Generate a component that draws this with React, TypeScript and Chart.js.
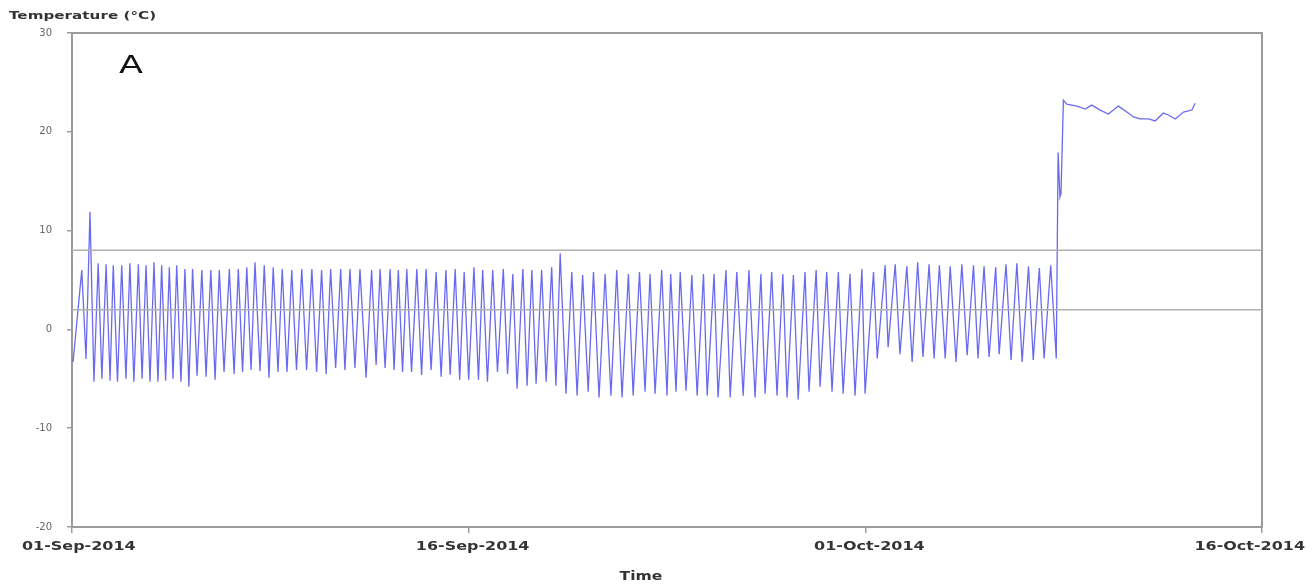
import React, { useEffect, useRef } from "react";
import { Chart, registerables } from "chart.js";

Chart.register(...registerables);

// Time axis: days since 01-Sep-2014 00:00
const xTickDays = [0, 15, 30, 45];
const xTickLabels = ["01-Sep-2014", "16-Sep-2014", "01-Oct-2014", "16-Oct-2014"];
const yTicks = [-20, -10, 0, 10, 20, 30];

// Daily cycling phase: peaks of each cycle
const peakDays = [
  0.37, 0.68, 0.99, 1.29, 1.56, 1.88, 2.19, 2.51, 2.8, 3.1,
  3.39, 3.68, 3.96, 4.27, 4.56, 4.91, 5.25, 5.57, 5.95, 6.29,
  6.61, 6.92, 7.27, 7.61, 7.95, 8.31, 8.69, 9.07, 9.44, 9.78,
  10.16, 10.51, 10.89, 11.33, 11.65, 12.03, 12.34, 12.66, 13.04, 13.39,
  13.77, 14.14, 14.49, 14.83, 15.2, 15.53, 15.91, 16.31, 16.67, 17.05,
  17.39, 17.76, 18.14, 18.46, 18.9, 19.31, 19.72, 20.16, 20.6, 21.04,
  21.46, 21.86, 22.3, 22.64, 23.0, 23.44, 23.88, 24.28, 24.73, 25.14,
  25.6, 26.05, 26.46, 26.88, 27.28, 27.72, 28.14, 28.54, 28.98, 29.42,
  29.87, 30.31, 30.75, 31.13, 31.57, 31.98, 32.41, 32.8, 33.21, 33.65,
  34.09, 34.49, 34.93, 35.32, 35.73, 36.17, 36.58, 37.01,
];
const peakTemps = [
  6.0, 11.9, 6.7, 6.6, 6.5, 6.5, 6.7, 6.6, 6.5, 6.8,
  6.5, 6.3, 6.5, 6.1, 6.1, 6.0, 6.0, 6.0, 6.1, 6.1,
  6.3, 6.8, 6.5, 6.3, 6.1, 6.0, 6.1, 6.1, 6.0, 6.1,
  6.1, 6.1, 6.1, 6.0, 6.1, 6.1, 6.0, 6.1, 6.1, 6.1,
  5.8, 6.0, 6.1, 5.8, 6.3, 6.0, 6.0, 6.1, 5.6, 6.1,
  6.0, 6.0, 6.3, 7.7, 5.8, 5.5, 5.8, 5.6, 6.0, 5.6,
  5.8, 5.6, 6.0, 5.6, 5.8, 5.5, 5.6, 5.6, 6.0, 5.8,
  6.0, 5.6, 5.8, 5.6, 5.5, 5.8, 6.0, 5.8, 5.8, 5.6,
  6.1, 5.8, 6.5, 6.6, 6.4, 6.8, 6.6, 6.5, 6.4, 6.6,
  6.5, 6.4, 6.3, 6.6, 6.7, 6.4, 6.2, 6.5,
];

// Troughs (first value is the start of the record)
const troughDays = [
  0.04,
  0.53, 0.83, 1.13, 1.44, 1.72, 2.04, 2.34, 2.65, 2.95, 3.25,
  3.54, 3.82, 4.12, 4.42, 4.73, 5.07, 5.41, 5.75, 6.13, 6.45,
  6.77, 7.11, 7.45, 7.79, 8.13, 8.49, 8.87, 9.25, 9.61, 9.97,
  10.32, 10.7, 11.12, 11.5, 11.84, 12.18, 12.5, 12.84, 13.22, 13.58,
  13.96, 14.3, 14.66, 15.0, 15.37, 15.71, 16.09, 16.47, 16.83, 17.21,
  17.55, 17.93, 18.3, 18.68, 19.1, 19.52, 19.93, 20.38, 20.8, 21.22,
  21.67, 22.05, 22.5, 22.84, 23.22, 23.64, 24.02, 24.43, 24.89, 25.38,
  25.83, 26.21, 26.66, 27.04, 27.46, 27.87, 28.29, 28.74, 29.16, 29.61,
  29.99, 30.45, 30.86, 31.31, 31.77, 32.18, 32.6, 33.02, 33.43, 33.85,
  34.26, 34.68, 35.06, 35.51, 35.93, 36.35, 36.76, 37.22,
];
const troughTemps = [
  -3.3,
  -3.0, -5.3, -5.0, -5.2, -5.3, -5.0, -5.3, -5.0, -5.3, -5.3,
  -5.2, -5.0, -5.3, -5.8, -4.7, -4.8, -5.1, -4.3, -4.5, -4.3,
  -4.1, -4.2, -4.9, -4.3, -4.3, -4.1, -4.1, -4.3, -4.5, -3.9,
  -4.1, -3.9, -4.9, -3.6, -3.9, -4.1, -4.3, -4.3, -4.6, -4.1,
  -4.8, -4.6, -5.1, -5.1, -5.1, -5.3, -4.3, -4.5, -6.0, -5.7,
  -5.5, -5.3, -5.7, -6.5, -6.7, -6.3, -6.9, -6.7, -6.9, -6.7,
  -6.3, -6.5, -6.7, -6.3, -6.2, -6.7, -6.7, -6.9, -6.9, -6.7,
  -6.9, -6.5, -6.7, -6.9, -7.1, -6.3, -5.8, -6.3, -6.5, -6.7,
  -6.5, -2.95, -1.8, -2.5, -3.3, -2.8, -2.95, -2.95, -3.3, -2.6,
  -2.95, -2.8, -2.5, -3.1, -3.3, -3.1, -2.95, -2.95,
];

// Final warm phase after the jump
const warmDays = [
  37.29, 37.36, 37.4, 37.49, 37.62, 38.0, 38.31, 38.56, 38.88, 39.19,
  39.57, 39.89, 40.14, 40.39, 40.71, 40.96, 41.27, 41.46, 41.72, 42.03,
  42.35, 42.47,
];
const warmTemps = [
  17.9, 13.4, 13.8, 23.2, 22.8, 22.6, 22.3, 22.7, 22.2, 21.8,
  22.6, 22.0, 21.5, 21.3, 21.3, 21.1, 21.9, 21.7, 21.3, 22.0,
  22.2, 22.9,
];

// Horizontal limit lines
const limitDays = [0, 45];
const upperLimit = [8, 8];
const lowerLimit = [2, 2];

const FONT = "'DejaVu Sans', Verdana, sans-serif";

function drawStretched(
  ctx: CanvasRenderingContext2D,
  text: string,
  x: number,
  y: number,
  sx: number,
  align: CanvasTextAlign
) {
  ctx.save();
  ctx.translate(x, y);
  ctx.scale(sx, 1);
  ctx.textAlign = align;
  ctx.textBaseline = "alphabetic";
  ctx.fillText(text, 0, 0);
  ctx.restore();
}

const decorPlugin = {
  id: "decor",
  beforeDatasetsDraw(chart: any) {
    const { ctx, chartArea } = chart;
    ctx.save();
    ctx.strokeStyle = "#9c9c9c";
    ctx.lineWidth = 2;
    ctx.strokeRect(
      chartArea.left,
      chartArea.top,
      chartArea.right - chartArea.left,
      chartArea.bottom - chartArea.top
    );
    ctx.restore();
  },
  afterDraw(chart: any) {
    const { ctx } = chart;
    const xs = chart.scales.x;
    ctx.save();
    ctx.fillStyle = "#333";
    ctx.font = `bold 11px ${FONT}`;
    drawStretched(ctx, "Temperature (°C)", 9, 19, 1.38, "left");
    ctx.fillStyle = "#111";
    ctx.font = `25px ${FONT}`;
    drawStretched(ctx, "A", 119, 73, 1.4, "left");
    ctx.fillStyle = "#333";
    ctx.font = `bold 12px ${FONT}`;
    const sx = 1.33;
    xs.ticks.forEach((t: any) => {
      const label = xTickLabels[xTickDays.indexOf(t.value)];
      if (!label) return;
      const w = ctx.measureText(label).width * sx;
      let cx = xs.getPixelForValue(t.value) + 4;
      cx = Math.max(cx, 22 + w / 2);
      cx = Math.min(cx, 1305 - w / 2);
      drawStretched(ctx, label, cx, 550, sx, "center");
    });
    ctx.font = `bold 12px ${FONT}`;
    drawStretched(ctx, "Time", 641, 580, 1.3, "center");
    ctx.restore();
  },
};

export default function App() {
  const canvasRef = useRef<HTMLCanvasElement | null>(null);

  useEffect(() => {
    if (!canvasRef.current) return;

    const pts: { x: number; y: number }[] = [];
    peakDays.forEach((d, i) => pts.push({ x: d, y: peakTemps[i] }));
    troughDays.forEach((d, i) => pts.push({ x: d, y: troughTemps[i] }));
    warmDays.forEach((d, i) => pts.push({ x: d, y: warmTemps[i] }));
    pts.sort((a, b) => a.x - b.x);

    const chart = new Chart(canvasRef.current, {
      type: "line",
      data: {
        datasets: [
          {
            label: "Temperature",
            data: pts,
            borderColor: "rgba(80,80,238,0.85)",
            borderWidth: 1.3,
            pointRadius: 0,
            tension: 0,
            fill: false,
            order: 1,
          },
          {
            label: "Upper limit",
            data: limitDays.map((d, i) => ({ x: d, y: upperLimit[i] })),
            borderColor: "#b0b0b0",
            borderWidth: 1.5,
            pointRadius: 0,
            fill: false,
            order: 0,
          },
          {
            label: "Lower limit",
            data: limitDays.map((d, i) => ({ x: d, y: lowerLimit[i] })),
            borderColor: "#b0b0b0",
            borderWidth: 1.5,
            pointRadius: 0,
            fill: false,
            order: 0,
          },
        ],
      },
      options: {
        animation: false,
        responsive: false,
        maintainAspectRatio: false,
        layout: { padding: { top: 33, right: 53, bottom: 0, left: 0 } },
        plugins: {
          legend: { display: false },
          tooltip: { enabled: false },
          title: { display: false },
        },
        scales: {
          x: {
            type: "linear",
            min: xTickDays[0],
            max: xTickDays[xTickDays.length - 1],
            afterBuildTicks: (scale: any) => {
              scale.ticks = xTickDays.map((v) => ({ value: v }));
            },
            afterFit: (scale: any) => {
              scale.height = 58;
            },
            ticks: { display: false },
            grid: {
              display: true,
              drawOnChartArea: false,
              drawTicks: true,
              tickLength: 6,
              color: "#9c9c9c",
              lineWidth: 1.5,
            },
            border: { display: false },
          },
          y: {
            type: "linear",
            min: yTicks[0],
            max: yTicks[yTicks.length - 1],
            afterBuildTicks: (scale: any) => {
              scale.ticks = yTicks.map((v) => ({ value: v }));
            },
            afterFit: (scale: any) => {
              scale.width = 72;
            },
            ticks: {
              padding: 15,
              color: "#666",
              font: { family: FONT, size: 10 },
              callback: (v: any) => String(v),
            },
            grid: {
              display: true,
              drawOnChartArea: false,
              drawTicks: true,
              tickLength: 5,
              color: "#9c9c9c",
              lineWidth: 1.5,
            },
            border: { display: false },
          },
        },
      },
      plugins: [decorPlugin],
    });

    return () => chart.destroy();
  }, []);

  return (
    <div
      style={{
        position: "fixed",
        left: 0,
        top: 0,
        width: 1315,
        height: 585,
        background: "#fff",
      }}
    >
      <canvas ref={canvasRef} width={1315} height={585} style={{ display: "block" }} />
    </div>
  );
}
